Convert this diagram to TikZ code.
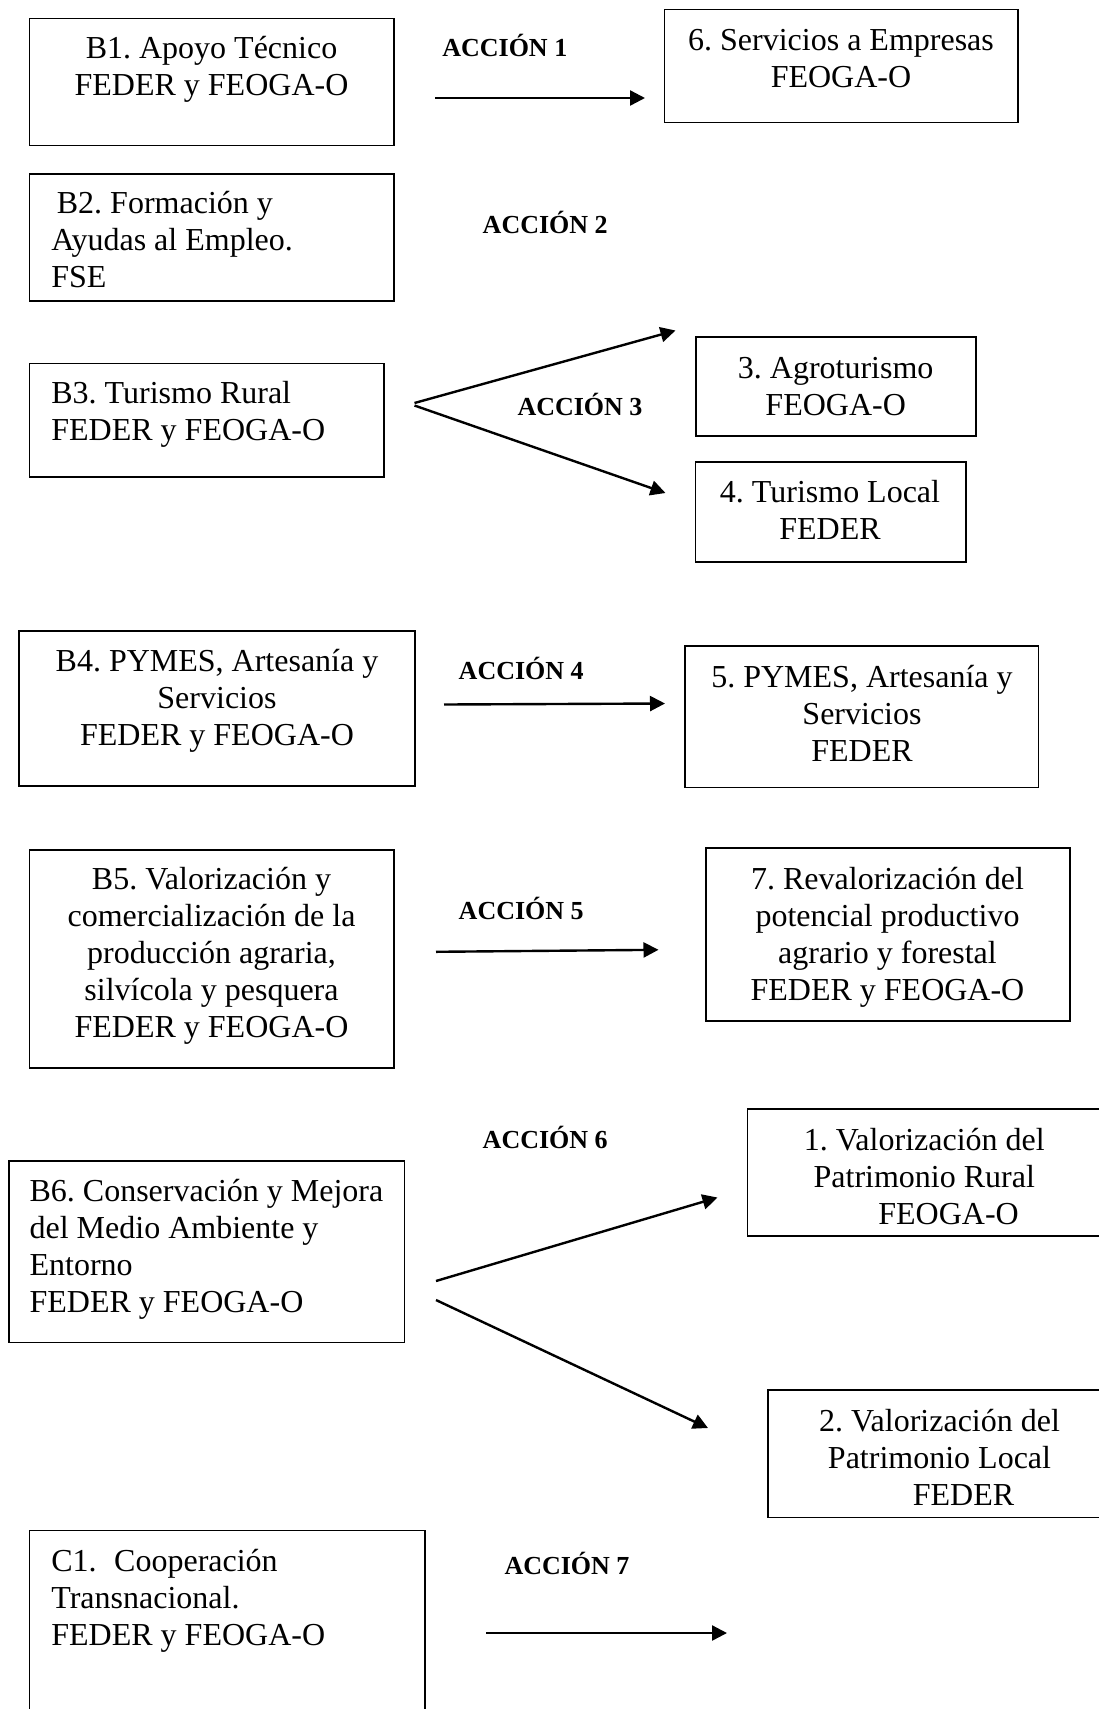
\documentclass[tikz,border=0pt]{standalone}
\usepackage{fontspec}
\setmainfont{Liberation Serif}
\usetikzlibrary{arrows.meta}
\newcommand{\tstr}{\rule{0pt}{32.5pt}}
\frenchspacing
\begin{document}
\begin{tikzpicture}[x=1pt,y=-1pt,
  box/.style={draw, line width=1.8pt, inner sep=0pt, outer sep=0pt, anchor=north west},
  txtc/.style={inner sep=0pt, font=\fontsize{32}{37}\selectfont, align=center, anchor=north},
  txtl/.style={inner sep=0pt, font=\fontsize{32}{37}\selectfont, align=left, anchor=north west},
  lab/.style={inner sep=0pt, font=\bfseries\fontsize{26}{30}\selectfont, anchor=base},
  arr/.style={line width=2.4pt, -{Triangle[length=15pt,width=15pt]}}]
\useasboundingbox (0,0) rectangle (1099,1709);
\clip (0,0) rectangle (1099,1709);
\fill[white] (0,0) rectangle (1099,1709);

% boxes
\node[box, minimum width=364.4pt, minimum height=127.1pt] (b1) at (29.4,18.4) {};
\node[box, minimum width=353.4pt, minimum height=113pt] (n6) at (664.4,9.5) {};
\node[box, minimum width=364.4pt, minimum height=127pt] (b2) at (29.4,174) {};
\node[box, minimum width=354.2pt, minimum height=113.1pt] (b3) at (29.4,363.5) {};
\node[box, minimum width=279.7pt, minimum height=99pt] (n3) at (696,337) {};
\node[box, minimum width=270.5pt, minimum height=99.3pt] (n4) at (695.5,462.3) {};
\node[box, minimum width=396pt, minimum height=155.4pt] (b4) at (19,630.6) {};
\node[box, minimum width=353.7pt, minimum height=141.3pt] (n5) at (684.8,646.2) {};
\node[box, minimum width=364.4pt, minimum height=218pt] (b5) at (29.4,850) {};
\node[box, minimum width=364.4pt, minimum height=172.3pt] (n7) at (705.6,848.3) {};
\node[box, minimum width=362.5pt, minimum height=127pt] (n1) at (747.5,1109) {};
\node[box, minimum width=395.9pt, minimum height=181.5pt] (b6) at (8.6,1161) {};
\node[box, minimum width=342pt, minimum height=127.5pt] (n2) at (768,1390) {};
\node[box, minimum width=395.6pt, minimum height=189.5pt] (c1) at (29.4,1530.5) {};

% texts
\node[txtc] (b1t) at (211.5,26) {\tstr B1. Apoyo Técnico\\FEDER y FEOGA-O};
\node[txtc] (n6t) at (841,17.3) {\tstr 6. Servicios a Empresas\\FEOGA-O};
\node[txtl] (b2t) at (51.2,180.8) {\tstr\hspace*{5.5pt}B2. Formación y\\Ayudas al Empleo.\\FSE};
\node[txtl] (b3t) at (51.2,370.5) {\tstr B3. Turismo Rural\\FEDER y FEOGA-O};
\node[txtc] (n3t) at (835.7,345.4) {\tstr 3. Agroturismo\\FEOGA-O};
\node[txtc] (n4t) at (830,469.7) {\tstr 4. Turismo Local\\FEDER};
\node[txtc] (b4t) at (217,638.7) {\tstr B4. PYMES, Artesanía y\\Servicios\\FEDER y FEOGA-O};
\node[txtc] (n5t) at (862,655) {\tstr 5. PYMES, Artesanía y\\Servicios\\FEDER};
\node[txtc] (b5t) at (211.5,856.8) {\tstr B5. Valorización y\\comercialización de la\\producción agraria,\\silvícola y pesquera\\FEDER y FEOGA-O};
\node[txtc] (n7t) at (887.5,856.8) {\tstr 7. Revalorización del\\potencial productivo\\agrario y forestal\\FEDER y FEOGA-O};
\node[txtc] (n1t) at (924.3,1117.4) {\tstr 1. Valorización del\\Patrimonio Rural\\\hspace*{48.6pt}FEOGA-O};
\node[txtl] (b6t) at (29.4,1168.6) {\tstr B6. Conservación y Mejora\\del Medio Ambiente y\\Entorno\\FEDER y FEOGA-O};
\node[txtc] (n2t) at (939.5,1398.7) {\tstr 2. Valorización del\\Patrimonio Local\\\hspace*{48pt}FEDER};
\node[txtl] (c1t) at (51.2,1538.3) {\tstr C1.\hspace{17.5pt}Cooperación\\Transnacional.\\FEDER y FEOGA-O};

% labels
\node[lab] (l1) at (504.8,56.2) {ACCIÓN 1};
\node[lab] (l2) at (545.2,233.2) {ACCIÓN 2};
\node[lab] (l3) at (580,415.2) {ACCIÓN 3};
\node[lab] (l4) at (521.2,679.2) {ACCIÓN 4};
\node[lab] (l5) at (521.2,919.2) {ACCIÓN 5};
\node[lab] (l6) at (545.2,1148.2) {ACCIÓN 6};
\node[lab] (l7) at (567,1574.2) {ACCIÓN 7};

% arrow end points
\coordinate (a1s) at (435,98);     \coordinate (a1e) at (645,98);
\coordinate (a3s) at (414.5,403);  \coordinate (a3u) at (675.5,330.5);
\coordinate (a3t) at (414.5,405.5);\coordinate (a3d) at (665.5,493);
\coordinate (a4s) at (444,704.5);  \coordinate (a4e) at (665,703.5);
\coordinate (a5s) at (436,951.8);  \coordinate (a5e) at (658.5,949.8);
\coordinate (a6s) at (436,1281);   \coordinate (a6u) at (717.5,1197.5);
\coordinate (a6t) at (436,1300);   \coordinate (a6d) at (708,1428);
\coordinate (a7s) at (486,1633);   \coordinate (a7e) at (727,1633);

\draw[arr] (a1s) -- (a1e);
\draw[arr] (a3s) -- (a3u);
\draw[arr] (a3t) -- (a3d);
\draw[arr] (a4s) -- (a4e);
\draw[arr] (a5s) -- (a5e);
\draw[arr] (a6s) -- (a6u);
\draw[arr] (a6t) -- (a6d);
\draw[arr] (a7s) -- (a7e);
\end{tikzpicture}
\end{document}
